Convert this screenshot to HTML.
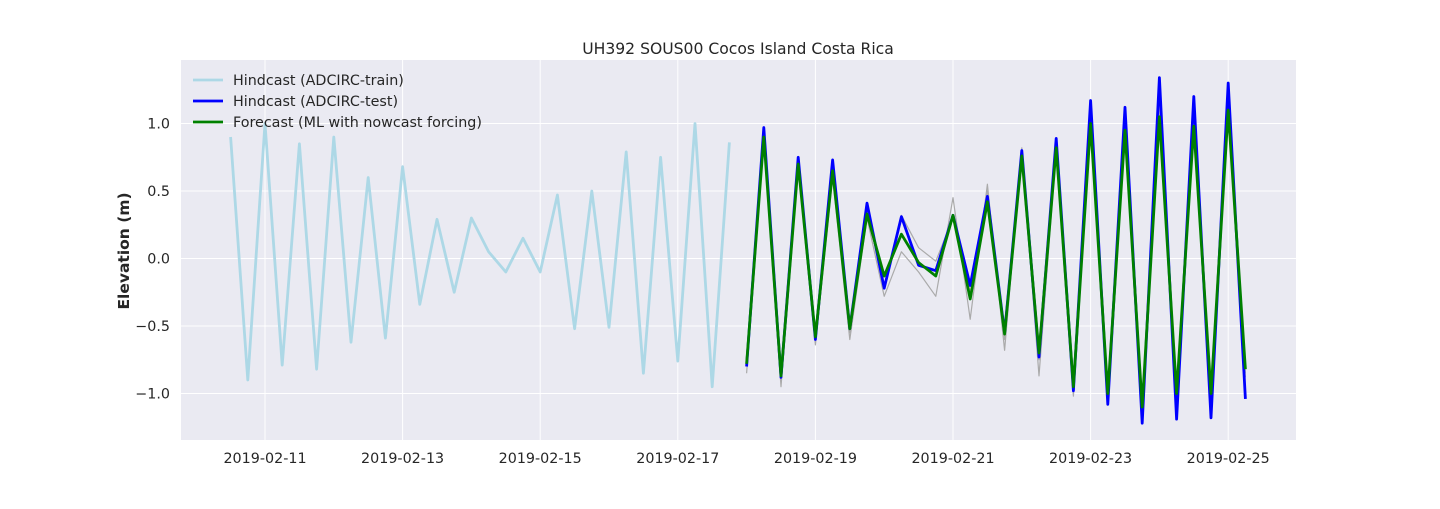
<!DOCTYPE html>
<html><head><meta charset="utf-8">
<style>
body{margin:0;background:#fff;}
svg text{font-family:"DejaVu Sans","Liberation Sans",sans-serif;fill:#262626;}
</style></head>
<body>
<svg id="chart" width="1440" height="504" xmlns="http://www.w3.org/2000/svg">
<rect x="181" y="60" width="1115" height="380" fill="#eaeaf2"/>
<g id="grid"></g>
<g id="series"></g>
<text x="738" y="54" text-anchor="middle" font-size="15.6">UH392 SOUS00 Cocos Island Costa Rica</text>
<text transform="translate(129,251) rotate(-90)" text-anchor="middle" font-size="15.5" font-weight="bold">Elevation (m)</text>
<g>
<line x1="193" y1="80" x2="223" y2="80" stroke="#add8e6" stroke-width="2.8"/>
<text x="233" y="85" font-size="14.3">Hindcast (ADCIRC-train)</text>
<line x1="193" y1="101" x2="223" y2="101" stroke="#0000ff" stroke-width="2.8"/>
<text x="233" y="106" font-size="14.3">Hindcast (ADCIRC-test)</text>
<line x1="193" y1="122" x2="223" y2="122" stroke="#008000" stroke-width="2.8"/>
<text x="233" y="127" font-size="14.3">Forecast (ML with nowcast forcing)</text>
</g>
</svg>
<script>
const yTicks=[-1.0,-0.5,0.0,0.5,1.0];
const yTickLabels=["\u22121.0","\u22120.5","0.0","0.5","1.0"];
const xTickDays=[11,13,15,17,19,21,23,25];
const xTickLabels=["2019-02-11","2019-02-13","2019-02-15","2019-02-17","2019-02-19","2019-02-21","2019-02-23","2019-02-25"];
const trainStart=10.5, testStart=18.0, step=0.25;
const trainValues=[0.9,-0.9,1.0,-0.79,0.85,-0.82,0.9,-0.62,0.6,-0.59,0.68,-0.34,0.29,-0.25,0.3,0.05,-0.1,0.15,-0.1,0.47,-0.52,0.5,-0.51,0.79,-0.85,0.75,-0.76,1.0,-0.95,0.86];
const testValues=[-0.8,0.97,-0.88,0.75,-0.6,0.73,-0.52,0.41,-0.22,0.31,-0.05,-0.09,0.32,-0.2,0.46,-0.55,0.8,-0.73,0.89,-0.98,1.17,-1.08,1.12,-1.22,1.34,-1.19,1.2,-1.18,1.3,-1.04];
const forecastValues=[-0.78,0.9,-0.87,0.7,-0.58,0.65,-0.52,0.33,-0.13,0.18,-0.03,-0.13,0.32,-0.3,0.42,-0.56,0.76,-0.7,0.82,-0.95,1.0,-1.0,0.95,-1.1,1.05,-1.0,0.98,-1.0,1.1,-0.82];
const grayA=[-0.85,0.9,-0.95,0.7,-0.64,0.6,-0.6,0.3,-0.28,0.05,-0.1,-0.28,0.45,-0.45,0.55,-0.68,0.82,-0.87,0.8,-1.02,1.0,-1.0,0.95,-1.1,1.1,-1.1,1.0,-1.05,1.1,-0.85];
const grayB=[-0.8,0.92,-0.9,0.72,-0.6,0.62,-0.55,0.35,-0.2,0.32,0.08,-0.02,0.3,-0.25,0.5,-0.6,0.78,-0.75,0.85,-1.0,1.05,-1.05,1.0,-1.12,1.15,-1.12,1.05,-1.1,1.15,-0.88];
const X=d=>265+(d-11)*68.8;
const Y=v=>258.5-v*135;
const NS="http://www.w3.org/2000/svg";
const grid=document.getElementById('grid'), svg=document.getElementById('chart'), ser=document.getElementById('series');
yTicks.forEach((t,i)=>{
 const l=document.createElementNS(NS,'line');
 l.setAttribute('x1',181);l.setAttribute('x2',1296);l.setAttribute('y1',Y(t));l.setAttribute('y2',Y(t));
 l.setAttribute('stroke','#fff');l.setAttribute('stroke-width','1');
 
 
 grid.appendChild(l);
 const tx=document.createElementNS(NS,'text');
 tx.setAttribute('x',170);tx.setAttribute('y',Y(t)+5);tx.setAttribute('text-anchor','end');tx.setAttribute('font-size','14.3');
 tx.textContent=yTickLabels[i];
 
 
 svg.appendChild(tx);
});
xTickDays.forEach((d,i)=>{
 const l=document.createElementNS(NS,'line');
 l.setAttribute('x1',X(d));l.setAttribute('x2',X(d));l.setAttribute('y1',60);l.setAttribute('y2',440);
 l.setAttribute('stroke','#fff');l.setAttribute('stroke-width','1');
 
 
 grid.appendChild(l);
 const tx=document.createElementNS(NS,'text');
 tx.setAttribute('x',X(d));tx.setAttribute('y',463);tx.setAttribute('text-anchor','middle');tx.setAttribute('font-size','14.3');
 tx.textContent=xTickLabels[i];
 
 
 svg.appendChild(tx);
});
function line(vals,start,color,w,name){
 const p=document.createElementNS(NS,'polyline');
 p.setAttribute('points',vals.map((v,i)=>X(start+i*step)+','+Y(v)).join(' '));
 p.setAttribute('fill','none');p.setAttribute('stroke',color);p.setAttribute('stroke-width',w);p.setAttribute('stroke-linejoin','round');
 
 
 ser.appendChild(p);
}
line(trainValues,trainStart,'#add8e6',2.8,'train-line');
line(grayA,testStart,'#aaaaaa',1.2,'ensemble-line-a');
line(grayB,testStart,'#aaaaaa',1.2,'ensemble-line-b');
line(testValues,testStart,'#0000ff',2.8,'test-line');
line(forecastValues,testStart,'#008000',2.8,'forecast-line');
</script>
</body></html>
